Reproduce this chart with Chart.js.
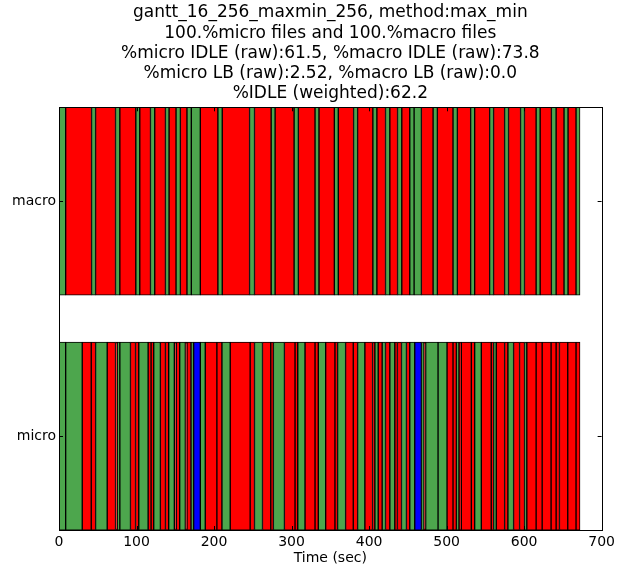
<!DOCTYPE html>
<html>
<head>
<meta charset="utf-8">
<script src="https://cdn.jsdelivr.net/npm/chart.js@4/dist/chart.umd.min.js"></script>
<style>
  html, body { margin: 0; padding: 0; background: #ffffff; }
  #caja { width: 619px; height: 569px; }
</style>
</head>
<body>
<div id="caja"><canvas id="graficaGantt"></canvas></div>
<script>
// filas del gantt (arriba -> abajo) y su centro en el eje y (0..18)
const rowNames = ['macro', 'micro'];
const rowCenter = [14, 4];
const xTicks = [0, 100, 200, 300, 400, 500, 600, 700];

// bordes de cada tramo (seg) y estado de cada tramo
const macroEdges = [0, 8.6, 42.0, 47.2, 72.9, 78.5, 99.1, 104.2, 118.0, 123.5,
  137.3, 142.0, 151.0, 156.6, 165.1, 170.7, 182.3, 205.0, 210.6, 245.8,
  252.2, 273.7, 278.8, 303.3, 308.8, 330.3, 335.4, 355.2, 360.3, 380.0,
  385.2, 404.9, 410.1, 421.2, 426.8, 436.7, 442.2, 452.5, 458.1, 467.5,
  482.6, 488.1, 508.3, 513.9, 531.0, 536.2, 555.5, 560.6, 574.8, 579.9,
  595.4, 600.5, 615.5, 620.7, 635.2, 641.3, 651.5, 656.7, 667.0, 672.1];
const macroState = ['run', 'idle', 'run', 'idle', 'run', 'idle', 'run', 'idle', 'run', 'idle',
  'run', 'idle', 'run', 'idle', 'run', 'run', 'idle', 'run', 'idle', 'run',
  'idle', 'run', 'idle', 'run', 'idle', 'run', 'idle', 'run', 'idle', 'run',
  'idle', 'run', 'idle', 'run', 'idle', 'run', 'idle', 'run', 'run', 'idle',
  'run', 'idle', 'run', 'idle', 'run', 'idle', 'run', 'idle', 'run', 'idle',
  'run', 'idle', 'run', 'idle', 'run', 'idle', 'run', 'idle', 'run'];

const microEdges = [0, 8.6, 30.0, 41.6, 47.2, 62.2, 72.9, 75.1, 78.5, 92.2,
  98.7, 102.9, 115.0, 118.8, 122.2, 130.8, 137.3, 141.5, 148.8, 151.4,
  155.7, 163.0, 165.1, 170.3, 173.7, 182.3, 188.7, 203.7, 210.2, 220.9,
  246.6, 252.2, 262.5, 273.2, 276.6, 290.8, 304.5, 308.0, 317.4, 330.3,
  334.5, 344.0, 356.0, 359.4, 369.7, 379.6, 385.2, 394.6, 404.5, 407.5,
  411.8, 416.9, 421.2, 426.8, 433.2, 436.6, 441.8, 448.2, 452.5, 458.9,
  467.5, 470.9, 473.0, 489.0, 500.6, 508.3, 512.6, 516.0, 519.0, 531.9,
  536.2, 544.8, 557.6, 560.6, 564.1, 574.8, 579.1, 586.4, 594.1, 600.5,
  603.5, 615.5, 623.3, 634.8, 641.3, 645.6, 656.3, 667.0, 672.1];
const microState = ['run', 'run', 'idle', 'idle', 'run', 'idle', 'idle', 'run', 'run', 'idle',
  'idle', 'run', 'idle', 'idle', 'run', 'idle', 'idle', 'run', 'idle', 'idle',
  'run', 'idle', 'idle', 'run', 'lb', 'run', 'idle', 'idle', 'run', 'idle',
  'idle', 'run', 'idle', 'idle', 'run', 'idle', 'idle', 'run', 'idle', 'idle',
  'run', 'idle', 'idle', 'run', 'idle', 'idle', 'run', 'idle', 'idle', 'run',
  'idle', 'run', 'idle', 'run', 'idle', 'idle', 'run', 'idle', 'run', 'lb',
  'run', 'idle', 'run', 'run', 'idle', 'idle', 'run', 'idle', 'idle', 'idle',
  'run', 'idle', 'idle', 'run', 'idle', 'idle', 'run', 'idle', 'idle', 'run',
  'idle', 'idle', 'idle', 'idle', 'idle', 'idle', 'idle', 'idle'];

const titleLines = [
  'gantt_16_256_maxmin_256, method:max_min',
  '100.%micro files and 100.%macro files',
  '%micro IDLE (raw):61.5, %macro IDLE (raw):73.8',
  '%micro LB (raw):2.52, %macro LB (raw):0.0',
  '%IDLE (weighted):62.2'
];

const colores = { run: '#4da64d', idle: '#ff0000', lb: '#0000ff' };
const fuente = 'DejaVu Sans';
const grosorBarra = 188;   // alto de cada fila en px (8 de 18 unidades)

function tramos(edges, states, y) {
  return states.map((s, i) => ({ x: [edges[i], edges[i + 1]], y: y, estado: s }));
}

function serie(nombre, edges, states, y) {
  const datos = tramos(edges, states, y);
  return {
    label: nombre,
    data: datos,
    backgroundColor: datos.map(d => colores[d.estado]),
    borderColor: '#000000',
    borderWidth: 1,
    borderSkipped: false,
    barThickness: grosorBarra,
    grouped: false
  };
}

// marco negro con marcas hacia dentro (estilo matplotlib)
const marco = {
  id: 'marco',
  afterDatasetsDraw(chart) {
    const { ctx, chartArea: a, scales: { x, y } } = chart;
    ctx.save();
    ctx.strokeStyle = '#000';
    ctx.lineWidth = 1;
    ctx.beginPath();
    xTicks.forEach(v => {
      const px = Math.round(x.getPixelForValue(v)) + 0.5;
      ctx.moveTo(px, a.bottom); ctx.lineTo(px, a.bottom - 4);
      ctx.moveTo(px, a.top); ctx.lineTo(px, a.top + 4);
    });
    rowCenter.forEach(v => {
      const py = Math.round(y.getPixelForValue(v)) + 0.5;
      ctx.moveTo(a.left, py); ctx.lineTo(a.left + 4, py);
      ctx.moveTo(a.right, py); ctx.lineTo(a.right - 4, py);
    });
    ctx.stroke();
    ctx.strokeRect(Math.round(a.left) + 0.5, Math.round(a.top) + 0.5,
      Math.round(a.right - a.left), Math.round(a.bottom - a.top));
    ctx.restore();
  }
};

const ctx = document.getElementById('graficaGantt').getContext('2d');
new Chart(ctx, {
  type: 'bar',
  data: {
    datasets: [
      serie(rowNames[0], macroEdges, macroState, rowCenter[0]),
      serie(rowNames[1], microEdges, microState, rowCenter[1])
    ]
  },
  options: {
    indexAxis: 'y',
    responsive: true,
    maintainAspectRatio: false,
    animation: false,
    layout: { padding: { left: 0, right: 15, top: 0, bottom: 0 } },
    scales: {
      x: {
        type: 'linear',
        min: 0,
        max: 700,
        offset: false,
        afterBuildTicks: axis => { axis.ticks = xTicks.map(v => ({ value: v })); },
        afterFit: axis => { axis.height = 39; },
        grid: { display: false, drawTicks: false },
        border: { display: false },
        ticks: { color: '#000', padding: 4, font: { family: fuente, size: 14 } },
        title: {
          display: true,
          text: 'Time (sec)',
          color: '#000',
          padding: { top: 0, bottom: 2 },
          font: { family: fuente, size: 14 }
        }
      },
      y: {
        type: 'linear',
        min: 0,
        max: 18,
        offset: false,
        afterBuildTicks: axis => { axis.ticks = rowCenter.map(v => ({ value: v })); },
        afterFit: axis => { axis.width = 59; },
        grid: { display: false, drawTicks: false },
        border: { display: false },
        ticks: {
          color: '#000',
          padding: 3,
          font: { family: fuente, size: 14 },
          callback: v => rowNames[rowCenter.indexOf(v)]
        }
      }
    },
    plugins: {
      legend: { display: false },
      tooltip: { enabled: false },
      title: {
        display: true,
        fullSize: false,
        text: titleLines,
        color: '#000',
        padding: { top: 3, bottom: 4 },
        font: { family: fuente, size: 17, weight: 'normal', lineHeight: 1.18 }
      }
    }
  },
  plugins: [marco]
});
</script>
</body>
</html>
